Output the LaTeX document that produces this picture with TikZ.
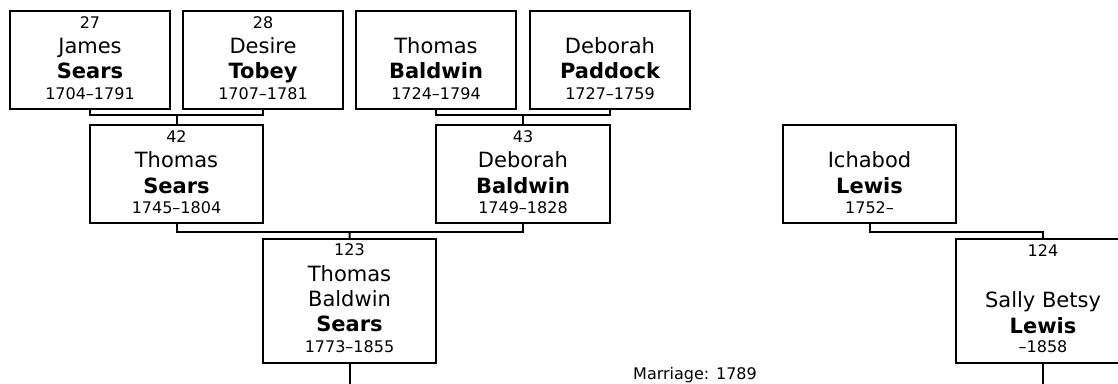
\documentclass[tikz,border=0pt]{standalone}
\usepackage{fontspec}
\setmainfont{DejaVu Sans}
\usetikzlibrary{calc}
\tikzset{
  pbox/.style={draw, line width=2pt, inner sep=0pt, outer sep=0pt, rectangle},
  numtxt/.style={anchor=base, inner sep=0pt, font=\fontsize{16}{18}\selectfont},
  nametxt/.style={anchor=base, inner sep=0pt, font=\fontsize{21}{24}\selectfont},
  surtxt/.style={anchor=base, inner sep=0pt, font=\fontsize{21}{24}\selectfont\bfseries},
  link/.style={line width=2pt},
}
\begin{document}
\begin{tikzpicture}[x=1pt,y=-1pt]
\clip (0,0) rectangle (1118,383);
\fill[white] (0,0) rectangle (1118,383);

% boxes
\node[pbox, minimum width=160, minimum height=98.5] (p27) at (90,59.75) {};
\node[pbox, minimum width=160, minimum height=98.5] (p28) at (263,59.75) {};
\node[pbox, minimum width=160, minimum height=98.5] (pTB) at (436,59.75) {};
\node[pbox, minimum width=160, minimum height=98.5] (pDP) at (610,59.75) {};
\node[pbox, minimum width=173, minimum height=98.3] (p42) at (176.5,174.15) {};
\node[pbox, minimum width=174, minimum height=98.3] (p43) at (523,174.15) {};
\node[pbox, minimum width=173, minimum height=124] (p123) at (349.5,301) {};
\node[pbox, minimum width=173, minimum height=98.3] (pIL) at (869.5,174.15) {};
\node[pbox, minimum width=174, minimum height=124] (p124) at (1043,301) {};

% texts
\node[numtxt]  (p27a) at ($(p27.north)+(0,17.7)$) {27};
\node[nametxt] (p27b) at ($(p27.north)+(0,42.8)$) {James};
\node[surtxt]  (p27c) at ($(p27.north)+(0,68.3)$) {Sears};
\node[numtxt]  (p27d) at ($(p27.north)+(0,88.7)$) {1704–1791};

\node[numtxt]  (p28a) at ($(p28.north)+(0,17.7)$) {28};
\node[nametxt] (p28b) at ($(p28.north)+(0,42.8)$) {Desire};
\node[surtxt]  (p28c) at ($(p28.north)+(0,68.3)$) {Tobey};
\node[numtxt]  (p28d) at ($(p28.north)+(0,88.7)$) {1707–1781};

\node[nametxt] (pTBb) at ($(pTB.north)+(0,42.8)$) {Thomas};
\node[surtxt]  (pTBc) at ($(pTB.north)+(0,68.3)$) {Baldwin};
\node[numtxt]  (pTBd) at ($(pTB.north)+(0,88.7)$) {1724–1794};

\node[nametxt] (pDPb) at ($(pDP.north)+(0,42.8)$) {Deborah};
\node[surtxt]  (pDPc) at ($(pDP.north)+(0,68.3)$) {Paddock};
\node[numtxt]  (pDPd) at ($(pDP.north)+(0,88.7)$) {1727–1759};

\node[numtxt]  (p42a) at ($(p42.north)+(0,17.7)$) {42};
\node[nametxt] (p42b) at ($(p42.north)+(0,42.8)$) {Thomas};
\node[surtxt]  (p42c) at ($(p42.north)+(0,68.3)$) {Sears};
\node[numtxt]  (p42d) at ($(p42.north)+(0,88.7)$) {1745–1804};

\node[numtxt]  (p43a) at ($(p43.north)+(0,17.7)$) {43};
\node[nametxt] (p43b) at ($(p43.north)+(0,42.8)$) {Deborah};
\node[surtxt]  (p43c) at ($(p43.north)+(0,68.3)$) {Baldwin};
\node[numtxt]  (p43d) at ($(p43.north)+(0,88.7)$) {1749–1828};

\node[nametxt] (pILb) at ($(pIL.north)+(0,42.8)$) {Ichabod};
\node[surtxt]  (pILc) at ($(pIL.north)+(0,68.3)$) {Lewis};
\node[numtxt]  (pILd) at ($(pIL.north)+(0,88.7)$) {1752–};

\node[numtxt]  (p123a) at ($(p123.north)+(0,16.7)$) {123};
\node[nametxt] (p123b) at ($(p123.north)+(0,42.3)$) {Thomas};
\node[nametxt] (p123e) at ($(p123.north)+(0,67.3)$) {Baldwin};
\node[surtxt]  (p123c) at ($(p123.north)+(0,92.3)$) {Sears};
\node[numtxt]  (p123d) at ($(p123.north)+(0,113.7)$) {1773–1855};

\node[numtxt]  (p124a) at ($(p124.north)+(0,17.7)$) {124};
\node[nametxt] (p124b) at ($(p124.north)+(0,68.3)$) {Sally Betsy};
\node[surtxt]  (p124c) at ($(p124.north)+(0,94.3)$) {Lewis};
\node[numtxt]  (p124d) at ($(p124.north)+(0,113.7)$) {–1858};

\node[numtxt] (mar) at (695,379.5) {Marriage: 1789};

% connectors
\coordinate (c1) at ($(p27.south)!.5!(p28.south)+(0,6)$);
\draw[link] (p27.south) -- ++(0,6) -| (p28.south);
\draw[link] (c1) -- (p42.north);

\coordinate (c2) at ($(pTB.south)!.5!(pDP.south)+(0,6)$);
\draw[link] (pTB.south) -- ++(0,6) -| (pDP.south);
\draw[link] (c2) -- (p43.north);

\coordinate (c3) at ($(p42.south)!.5!(p43.south)+(0,8.5)$);
\draw[link] (p42.south) -- ++(0,8.5) -| (p43.south);
\draw[link] (c3) -- (p123.north);

\coordinate (c4) at ($(p124.north)+(0,-7)$);
\draw[link] (pIL.south) |- (c4) -- (p124.north);

\coordinate (e1) at ($(p123.south)+(0,25)$);
\coordinate (e2) at ($(p124.south)+(0,25)$);
\draw[link] (p123.south) -- (e1);
\draw[link] (p124.south) -- (e2);
\end{tikzpicture}
\end{document}
